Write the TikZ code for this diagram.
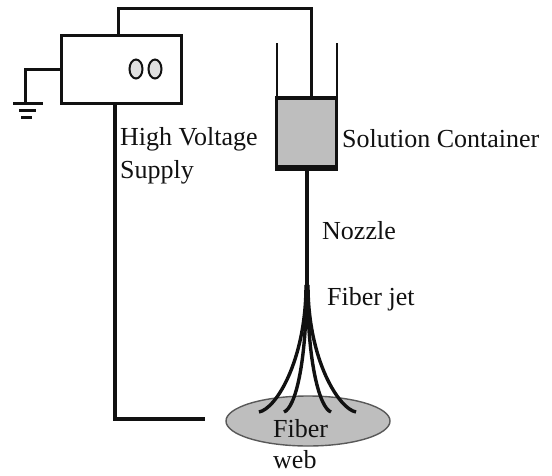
\documentclass[tikz,border=0pt]{standalone}
\usepackage{fontspec}
\setmainfont{Liberation Serif}
\usetikzlibrary{shapes.geometric}
\definecolor{fillgray}{HTML}{BEBEBE}
\definecolor{ink}{HTML}{111111}
\tikzset{
  wire/.style={draw=ink,line width=3pt},
  heavywire/.style={draw=ink,line width=4pt},
  fiberline/.style={draw=ink,line width=3.4pt},
  lbl/.style={anchor=base west,inner sep=0pt,text=ink,font=\fontsize{26}{30}\selectfont},
  knob/.style={draw=ink,line width=2pt,fill=black!12,ellipse,minimum width=13pt,minimum height=19pt,inner sep=0pt},
}
\begin{document}
\begin{tikzpicture}[x=1pt,y=-1pt]
\useasboundingbox (0,0) rectangle (552,475);
% fiber web
\node[draw=black!65,line width=1.4pt,fill=fillgray,ellipse,minimum width=164pt,minimum height=50pt,inner sep=0pt] (web) at (308,421) {};
% supply
\node[draw=ink,line width=3pt,fill=white,rectangle,minimum width=120pt,minimum height=68pt,inner sep=0pt] (supply) at (121,69) {};
\node[knob] (k1) at (136,69) {};
\node[knob] (k2) at (155,69) {};
% container
\node[draw=ink,line width=3.4pt,fill=fillgray,rectangle,minimum width=60pt,minimum height=69pt,inner sep=0pt] (cont) at (306.5,132.5) {};
\draw[ink,line width=5pt] (cont.south west) -- (cont.south east);
% walls
\coordinate (wl) at (277,43);
\coordinate (wr) at (337,43);
\draw[draw=ink,line width=2pt] (wl) -- (wl |- cont.north);
\draw[draw=ink,line width=2pt] (wr) -- (wr |- cont.north);
% top wire
\coordinate (t1) at (118,8);
\coordinate (t2) at (311,8);
\draw[wire,line join=miter] (t1 |- supply.north) -- (t1) -- (t2) -- (t2 |- cont.north);
% ground
\coordinate (g0) at (25,69);
\coordinate (g1) at (25,103);
\coordinate (ga1) at (13,103); \coordinate (ga2) at (43,103);
\coordinate (gb1) at (19,110); \coordinate (gb2) at (36,110);
\coordinate (gc1) at (21,117); \coordinate (gc2) at (32,117);
\draw[wire] (supply.west) -- (g0) -- (g1);
\draw[wire] (ga1) -- (ga2);
\draw[wire] (gb1) -- (gb2);
\draw[wire] (gc1) -- (gc2);
% return wire
\coordinate (r1) at (115,419);
\coordinate (r2) at (205,419);
\draw[heavywire] (r1 |- supply.south) -- (r1) -- (r2);
% nozzle and jets
\coordinate (noz) at (307,167);
\coordinate (j0) at (307,320);
\coordinate (e1) at (259,412);
\coordinate (e2) at (284,412);
\coordinate (e3) at (331,412);
\coordinate (e4) at (356,412);
\draw[draw=ink,line width=3.5pt] (noz) -- (j0);
\draw[fiberline] (306,285) .. controls (306,360) and (276,409) .. (e1);
\draw[fiberline] (306.5,285) .. controls (306.5,365) and (295,408) .. (e2);
\draw[fiberline] (307.5,285) .. controls (307.5,365) and (320,408) .. (e3);
\draw[fiberline] (308,285) .. controls (308,360) and (339,409) .. (e4);
% labels
\node[lbl] (hv) at (120,145) {High Voltage};
\node[lbl] (sp) at (120,178) {Supply};
\node[lbl] (sc) at (342,147) {Solution Container};
\node[lbl] (nz) at (322,239) {Nozzle};
\node[lbl] (fj) at (327,305) {Fiber jet};
\node[lbl] (fb) at (273,437) {Fiber};
\node[lbl] (wb) at (273,468) {web};
\end{tikzpicture}
\end{document}
